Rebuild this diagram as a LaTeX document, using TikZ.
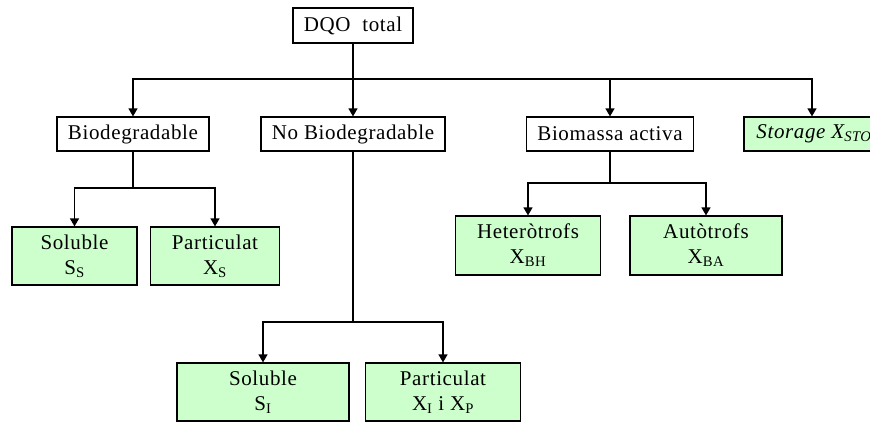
\documentclass[tikz,border=0pt]{standalone}
\usepackage{fontspec}
\setmainfont{Liberation Serif}[LetterSpace=3]
\usetikzlibrary{arrows.meta}
\definecolor{boxgreen}{HTML}{CCFFCC}

\begin{document}
\begin{tikzpicture}[x=1pt,y=-1pt,
    every node/.style={font=\fontsize{21}{25}\selectfont, line width=1.2pt},
    whitebox/.style={draw, fill=white, minimum height=34pt, inner sep=0pt},
    greenbox/.style={draw, fill=boxgreen, minimum height=58pt, inner sep=0pt, align=center},
    link/.style={line width=1.2pt},
    arr/.style={link, -{Triangle[width=9pt,length=8pt]}}]

  \useasboundingbox (0,0) rectangle (870,421);
  \clip (0,0) rectangle (870,421);

  % root
  \node[whitebox, minimum width=120pt, minimum height=35pt] (dqo) at (353,25.5) {DQO\ \ total};

  % first level
  \node[whitebox, minimum width=152pt] (bio) at (133,134) {Biodegradable};
  \node[whitebox, minimum width=184pt] (nobio) at (353,134) {No Biodegradable};
  \node[whitebox, minimum width=167pt] (biom) at (610,134) {Biomassa activa};
  \node[greenbox, minimum width=140pt, minimum height=34pt] (sto) at (814,134) {\textit{Storage X\textsubscript{STO}}};

  % fractions
  \node[greenbox, minimum width=125pt] (solS) at (74.5,256) {Soluble\\S\textsubscript{S}};
  \node[greenbox, minimum width=129pt] (partS) at (215,256) {Particulat\\X\textsubscript{S}};
  \node[greenbox, minimum width=145pt, minimum height=59pt] (het) at (528,245.5) {Heteròtrofs\\X\textsubscript{BH}};
  \node[greenbox, minimum width=152pt, minimum height=59pt] (aut) at (706,245.5) {Autòtrofs\\X\textsubscript{BA}};
  \node[greenbox, minimum width=172pt] (solI) at (263,392) {Soluble\\S\textsubscript{I}};
  \node[greenbox, minimum width=155pt] (partI) at (443,392) {Particulat\\X\textsubscript{I} i X\textsubscript{P}};

  % branch points
  \coordinate (top) at (353,79);
  \coordinate (jbio) at (133,188);
  \coordinate (jnobio) at (353,322);
  \coordinate (jbiom) at (610,183);

  % connectors
  \draw[link] (dqo) -- (top);
  \draw[arr] (top) -| (bio.north);
  \draw[arr] (top) -- (nobio);
  \draw[arr] (top) -| (biom.north);
  \draw[arr] (top) -| ([xshift=-2pt]sto.north);

  \draw[link] (bio) -- (jbio);
  \draw[arr] (jbio) -| (solS.north);
  \draw[arr] (jbio) -| (partS.north);

  \draw[link] (nobio) -- (jnobio);
  \draw[arr] (jnobio) -| (solI.north);
  \draw[arr] (jnobio) -| (partI.north);

  \draw[link] (biom) -- (jbiom);
  \draw[arr] (jbiom) -| (het.north);
  \draw[arr] (jbiom) -| (aut.north);
\end{tikzpicture}
\end{document}
